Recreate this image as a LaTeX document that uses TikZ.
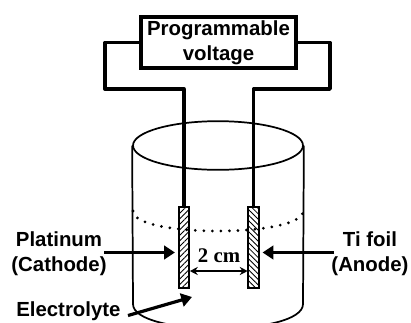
\documentclass[tikz,border=0pt]{standalone}
\usepackage{fontspec}
\setmainfont{Liberation Sans}
\newfontfamily\serifbf{Liberation Serif}
\usetikzlibrary{arrows.meta,patterns.meta,shapes.geometric}
\tikzset{
  lbl/.style   ={font=\fontsize{15.3}{18.6}\selectfont\bfseries, align=center, inner sep=0pt},
  gap/.style   ={font=\fontsize{15.6}{18}\serifbf\bfseries, inner sep=0pt},
  supply/.style={draw, line width=2.6pt, minimum width=116pt, minimum height=38.5pt, inner sep=0pt,
                 align=center, font=\fontsize{15.3}{18.6}\selectfont\bfseries},
  wire/.style  ={line width=2.5pt, line join=round},
  vessel/.style={line width=1.3pt},
  rim/.style   ={ellipse, draw, line width=1.3pt, minimum width=127.5pt, minimum height=36.5pt, inner sep=0pt},
  foil/.style  ={draw, line width=1.3pt, minimum width=8pt, minimum height=60.5pt, inner sep=0pt},
  level/.style ={line width=2.3pt, line cap=round, dash pattern=on 0pt off 6.4pt},
  pt/.style    ={line width=2.4pt, -{Triangle[length=8pt,width=10pt]}},
  span/.style  ={line width=1.4pt, {Stealth[length=6pt,width=6pt]}-{Stealth[length=6pt,width=6pt]}},
}
\begin{document}
\begin{tikzpicture}[x=0.75pt,y=-0.75pt]
  \useasboundingbox (0,0) rectangle (411,322);
  \begin{scope}
    \clip (0,0) rectangle (411,322);
    \node[rim] (mouth) at (218,145.5) {};
    \coordinate (baseL) at (133,304);
    \coordinate (baseR) at (303,304);
    \draw[vessel] (mouth.west) -- (baseL)
      .. controls (133,336.7) and (303,336.7) .. (baseR) -- (mouth.east);
  \end{scope}
  \draw[level] (133,211) .. controls (133,237.7) and (303,237.7) .. (303,211);
  \node[foil,pattern={Lines[angle=45,distance=2.9pt,line width=0.65pt]}] (cathode) at (184,247.5) {};
  \node[foil,pattern={Lines[angle=-45,distance=2.9pt,line width=0.65pt]}] (anode) at (253.5,247.5) {};
  \node[supply] (volt) at (218.5,42.5) {Programmable\\voltage};
  % leads run round the box and drop into the cell
  \draw[wire] (volt.west) -| (105,89) -| (cathode.north);
  \draw[wire] (volt.east) -| (330,89) -| (anode.north);
  \node[lbl] (ptlabel) at (59,254) {Platinum\\(Cathode)};
  \node[lbl] (tilabel) at (370,254) {Ti foil\\(Anode)};
  \node[lbl,anchor=west] (ellabel) at (16,311) {Electrolyte};
  \coordinate (ptfree) at (104,252.5);
  \coordinate (tifree) at (334,252.5);
  \coordinate (elfree) at (128,315.5);
  \coordinate (eltip) at (192,297);
  \draw[pt,shorten >=2.5pt] (ptfree) -- (cathode.west |- ptfree);
  \draw[pt,shorten >=2.5pt] (tifree) -- (anode.east |- tifree);
  \draw[pt] (elfree) -- (eltip);
  \draw[span] (cathode.east |- 0,271) -- (anode.west |- 0,271);
  \node[gap] (sep) at (219,255.5) {2 cm};
\end{tikzpicture}
\end{document}
